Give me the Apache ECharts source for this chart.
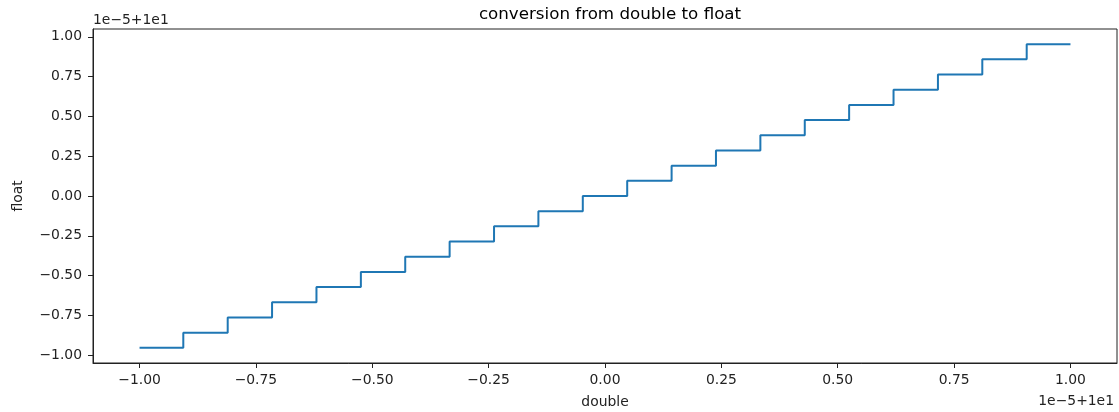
<!DOCTYPE html>
<html>
<head>
<meta charset="utf-8">
<script src="https://cdn.jsdelivr.net/npm/echarts@6/dist/echarts.min.js"></script>
<style>html,body{margin:0;padding:0;background:#fff}#c{width:1119px;height:412px}</style>
</head>
<body>
<div id="c"></div>
<script>
// Step edges (double, offset 1e-5 + 1e1) and float values held on each step
const stepX = [-1.0, -0.9060, -0.8106, -0.7153, -0.6199, -0.5245, -0.4292, -0.3338, -0.2384, -0.1431, -0.0477,
               0.0477, 0.1431, 0.2384, 0.3338, 0.4292, 0.5245, 0.6199, 0.7153, 0.8106, 0.9060, 1.0];
const floatY = [-0.9537, -0.8583, -0.7629, -0.6676, -0.5722, -0.4768, -0.3815, -0.2861, -0.1907, -0.0954, 0.0,
                0.0954, 0.1907, 0.2861, 0.3815, 0.4768, 0.5722, 0.6676, 0.7629, 0.8583, 0.9537, 0.9537];
const xTicks = [-1.0, -0.75, -0.5, -0.25, 0.0, 0.25, 0.5, 0.75, 1.0];
const yTicks = [-1.0, -0.75, -0.5, -0.25, 0.0, 0.25, 0.5, 0.75, 1.0];
const titleText = 'conversion from double to float';
const xName = 'double';
const yName = 'float';
const offsetText = '1e\u22125+1e1';

const FONT = 'DejaVu Sans';
const fmt = v => { const s = Math.abs(v) < 1e-12 ? '0.00' : v.toFixed(2); return s.replace('-', '\u2212'); };
const data = stepX.map((x, i) => [x, floatY[i]]);

const chart = echarts.init(document.getElementById('c'), null, {renderer: 'canvas'});
chart.setOption({
  animation: false,
  backgroundColor: '#fff',
  title: {
    text: titleText, left: 605, top: 1, textAlign: 'center',
    textStyle: {fontFamily: FONT, fontSize: 16.7, fontWeight: 'normal', color: '#000'}
  },
  grid: {left: 93, right: 2, top: 29, bottom: 49, show: true, borderColor: '#222', borderWidth: 1, backgroundColor: 'transparent'},
  xAxis: {
    type: 'value', min: -1.1, max: 1.1,
    axisLine: {show: true, onZero: false, lineStyle: {color: '#222', width: 1}},
    axisTick: {show: true, length: 5, customValues: xTicks, lineStyle: {color: '#222'}},
    axisLabel: {customValues: xTicks, formatter: fmt, margin: 10, fontFamily: FONT, fontSize: 13.9, color: '#222'},
    splitLine: {show: false}
  },
  yAxis: {
    type: 'value', min: -1.049, max: 1.049,
    axisLine: {show: true, onZero: false, lineStyle: {color: '#222', width: 1}},
    axisTick: {show: true, length: 5, customValues: yTicks, lineStyle: {color: '#222'}},
    axisLabel: {customValues: yTicks, formatter: fmt, margin: 11, fontFamily: FONT, fontSize: 13.9, color: '#222'},
    splitLine: {show: false}
  },
  graphic: [
    {type: 'text', left: 93, top: 13, style: {text: offsetText, font: '13.9px "DejaVu Sans"', fill: '#222'}},
    {type: 'text', right: 5, top: 394, style: {text: offsetText, font: '13.9px "DejaVu Sans"', fill: '#222'}},
    {type: 'text', x: 605, y: 402, style: {text: xName, font: '13.9px "DejaVu Sans"', fill: '#222', align: 'center', verticalAlign: 'middle'}},
    {type: 'text', x: 18, y: 196, rotation: Math.PI / 2, style: {text: yName, font: '13.9px "DejaVu Sans"', fill: '#222', align: 'center', verticalAlign: 'middle'}}
  ],
  series: [{
    type: 'line', step: 'end', data: data, showSymbol: false, symbol: 'none',
    lineStyle: {color: '#1f77b4', width: 2}, itemStyle: {color: '#1f77b4'}
  }]
});
</script>
</body>
</html>
